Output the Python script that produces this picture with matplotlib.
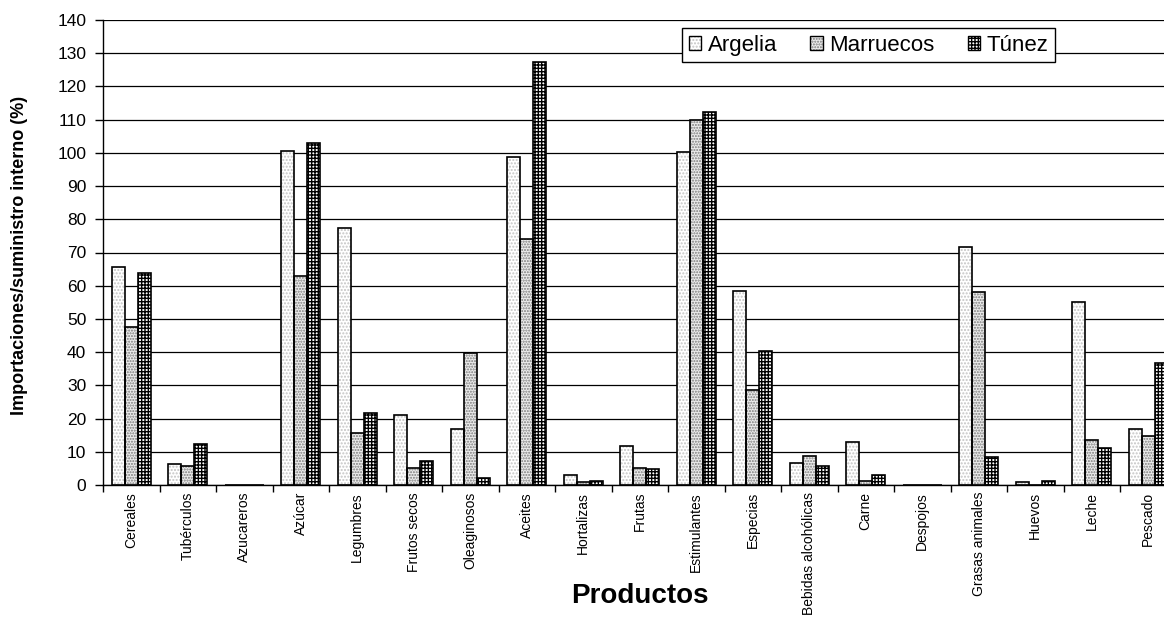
import numpy as np
import matplotlib
matplotlib.use('Agg')
import matplotlib.pyplot as plt
from matplotlib.patches import Patch

plt.rcParams['font.family'] = ['Liberation Sans', 'DejaVu Sans']
plt.rcParams['hatch.linewidth'] = 1.0

# Productos y porcentajes importaciones/suministro interno
productos = ['Cereales', 'Tubérculos', 'Azucareros', 'Azúcar', 'Legumbres',
             'Frutos secos', 'Oleaginosos', 'Aceites', 'Hortalizas', 'Frutas',
             'Estimulantes', 'Especias', 'Bebidas alcohólicas', 'Carne',
             'Despojos', 'Grasas animales', 'Huevos', 'Leche', 'Pescado']

argelia = [65.6, 6.4, 0, 100.6, 77.5, 21.2, 16.9, 98.7, 3.1, 11.8,
           100.3, 58.4, 6.7, 12.9, 0, 71.6, 0.8, 55.0, 16.9]
marruecos = [47.5, 5.6, 0, 62.8, 15.6, 5.2, 39.6, 74.0, 0.8, 5.2,
             110.0, 28.7, 8.6, 1.1, 0, 58.0, 0, 13.4, 14.9]
tunez = [63.8, 12.2, 0, 103.0, 21.6, 7.1, 2.0, 127.3, 1.3, 4.7,
         112.3, 40.4, 5.6, 3.1, 0, 8.3, 1.3, 11.0, 36.6]

paises = ['Argelia', 'Marruecos', 'Túnez']
series = [argelia, marruecos, tunez]
# relleno, color de la trama, trama
estilos = [('white', '#c4c4c4', '.....'),
           ('#ececec', '#7a7a7a', '......'),
           ('white', 'black', '+++++')]

fig = plt.figure(figsize=(11.64, 6.18), dpi=100)
ax = fig.add_axes([103 / 1164, 1 - 485 / 618, (1176.5 - 103) / 1164, (485 - 20) / 618])

x = np.arange(len(productos))
w = 0.23
handles = []
for i, (vals, (face, hcol, hatch)) in enumerate(zip(series, estilos)):
    pos = x + (i - 1) * w
    ax.bar(pos, vals, w, color=face, edgecolor=hcol, hatch=hatch, lw=0, zorder=2)
    ax.bar(pos, vals, w, fill=False, edgecolor='black', lw=1.2, zorder=3)
    handles.append((Patch(facecolor=face, edgecolor=hcol, hatch=hatch, lw=0),
                    Patch(fill=False, edgecolor='black', lw=1.0)))

ax.set_xlim(-0.5, len(productos) - 0.5)
ax.set_ylim(0, 140)
ax.set_yticks(np.arange(0, 141, 10))
ax.yaxis.grid(True, color='black', lw=0.9)
ax.set_axisbelow(True)

for s in ['top', 'right']:
    ax.spines[s].set_visible(False)
for s in ['left', 'bottom']:
    ax.spines[s].set_linewidth(1.0)
    ax.spines[s].set_color('black')
ax.spines['bottom'].set_zorder(4)

ax.set_xticks(x)
ax.set_xticklabels(productos, rotation=90, fontsize=10, va='top', ha='center')
ax.set_xticks(np.arange(-0.5, len(productos), 1), minor=True)
ax.tick_params(axis='x', which='major', length=0, pad=5)
ax.tick_params(axis='x', which='minor', length=5, width=1, direction='out')
ax.tick_params(axis='y', length=6, width=1, direction='out', labelsize=12.5, pad=6)

fig.text(20 / 1164, 1 - 255 / 618, 'Importaciones/suministro interno (%)',
         rotation=90, ha='center', va='center', fontsize=13, fontweight='bold')
fig.text(640 / 1164, 1 - 596 / 618, 'Productos', ha='center', va='center',
         fontsize=20, fontweight='bold')

leg = ax.legend(handles, paises, loc='upper left', ncol=3,
                bbox_to_anchor=(682 / 1164, 1 - 28 / 618), bbox_transform=fig.transFigure,
                borderaxespad=0, fontsize=16, fancybox=False, framealpha=1,
                edgecolor='black', handlelength=0.55, handleheight=0.55,
                handletextpad=0.3, columnspacing=1.5, borderpad=0.3)
leg.get_frame().set_linewidth(1.0)

fig.savefig('out.png', dpi=100)
